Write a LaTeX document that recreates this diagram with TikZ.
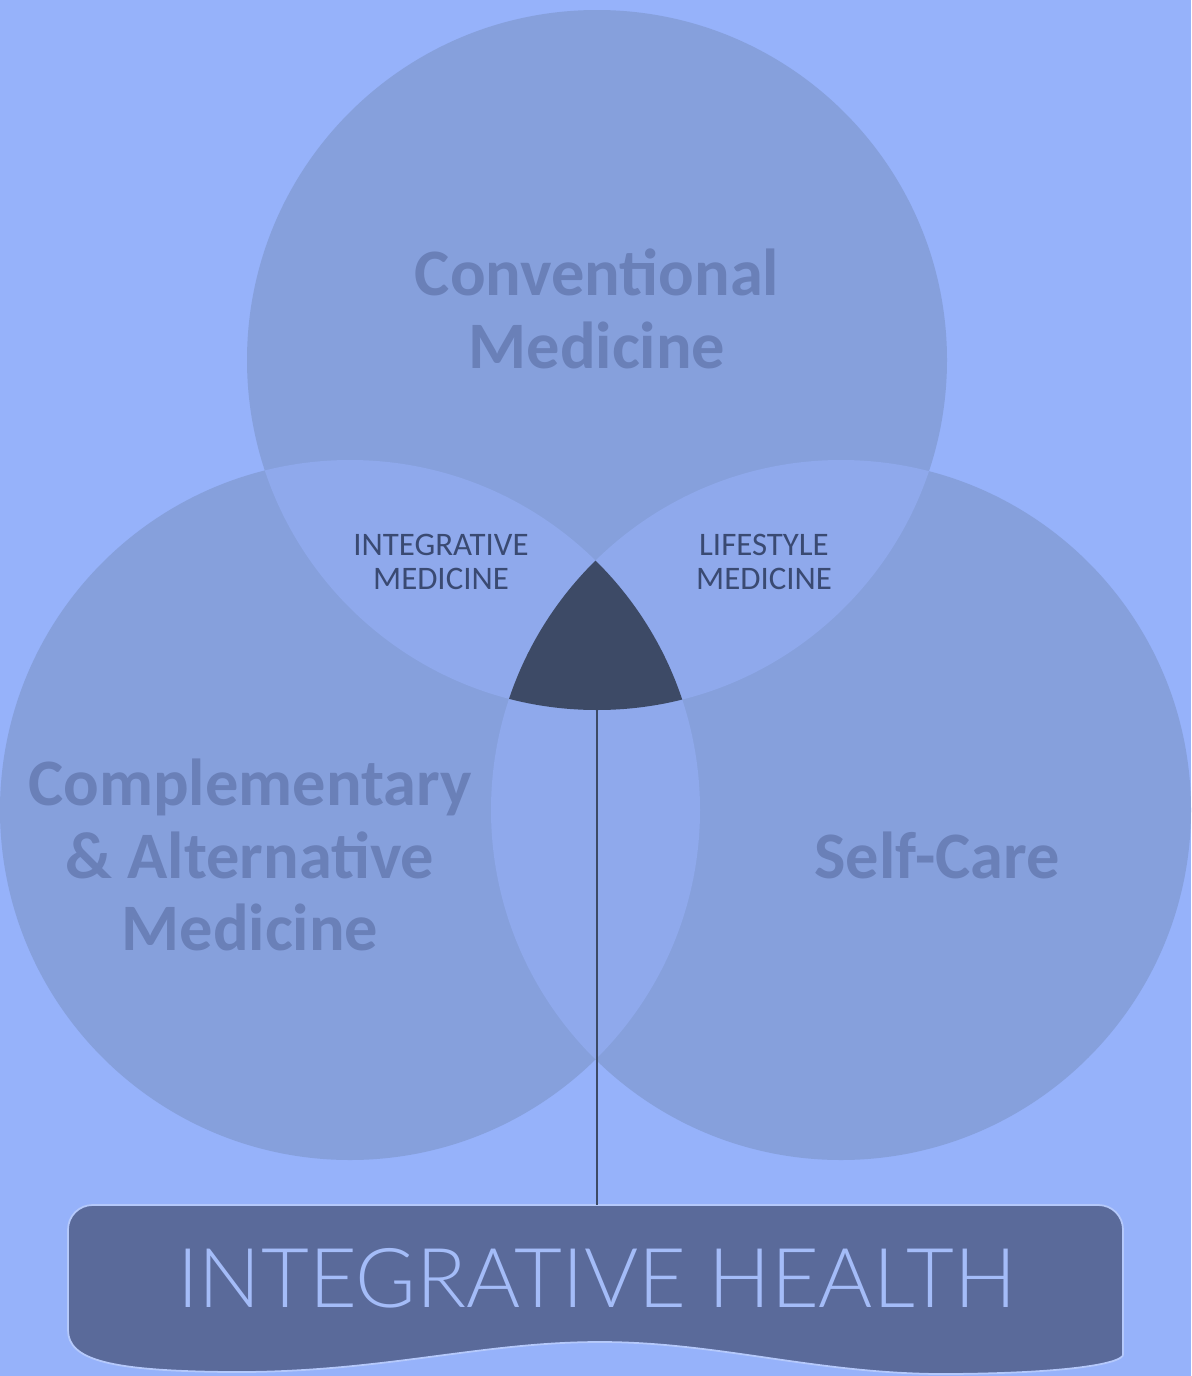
\documentclass[tikz,border=0pt]{standalone}
\usepackage{fontspec}
\setmainfont{Carlito}
\newfontfamily\thinfont{Lato}[UprightFont=* Light]
\definecolor{bgblue}{HTML}{96B2FA}
\definecolor{ringblue}{HTML}{86A0DC}
\definecolor{lensblue}{HTML}{8FA9EC}
\definecolor{coreblue}{HTML}{3D4A66}
\definecolor{bigtext}{HTML}{6A80B8}
\definecolor{smalltext}{HTML}{3A4A72}
\definecolor{bannerblue}{HTML}{5A6A9A}
\definecolor{bannertext}{HTML}{A4BCF8}
\begin{document}
\begin{tikzpicture}[x=0.02cm,y=-0.02cm,
    bigname/.style={text=bigtext,font=\fontsize{37.8}{41.5}\selectfont\bfseries,align=center},
    overlap/.style={text=smalltext,font=\fontsize{18.7}{19.8}\selectfont,align=center}]
	\useasboundingbox (0,0) rectangle (1191,1376);
	\fill[bgblue] (0,0) rectangle (1191,1376);
	\coordinate (conv) at (597,360);
	\coordinate (cam) at (350,810);
	\coordinate (self) at (841,810);
	% the three circles
	\fill[ringblue] (conv) circle[radius=350] (cam) circle[radius=350] (self) circle[radius=350];
	\begin{scope}
		\clip (conv) circle[radius=350];
		\fill[lensblue] (cam) circle[radius=350] (self) circle[radius=350];
	\end{scope}
	\begin{scope}
		\clip (cam) circle[radius=350];
		\fill[lensblue] (self) circle[radius=350];
	\end{scope}
	\begin{scope}
		\clip (conv) circle[radius=350];
		\clip (cam) circle[radius=350];
		\fill[coreblue] (self) circle[radius=350];
	\end{scope}
	% labels
	\node[bigname] (convtext) at (597,309) {Conventional\\Medicine};
	\node[bigname] (camtext) at (250,855) {Complementary\\\& Alternative\\Medicine};
	\node[bigname] (selftext) at (937,855) {Self-Care};
	\node[overlap] (imtext) at (441,562) {INTEGRATIVE\\MEDICINE};
	\node[overlap] (lmtext) at (764,562) {LIFESTYLE\\MEDICINE};
	% banner
	\fill[bannerblue,draw=bgblue!70!white,line width=1pt] (68,1330) [rounded corners=14pt] -- (68,1205) -- (1123,1205) -- (1123,1330) [sharp corners]
		.. controls (1123,1362) and (1080,1373) .. (950,1374)
		.. controls (820,1375) and (720,1342) .. (600,1342)
		.. controls (480,1342) and (380,1373) .. (230,1372)
		.. controls (110,1371) and (68,1360) .. (68,1330) -- cycle;
	\node[text=bannertext,font=\fontsize{47}{49}\thinfont] (health) at (597,1278) {INTEGRATIVE HEALTH};
	\coordinate (core) at (597,655);
	\coordinate (bannertop) at (597,1205);
	\draw[coreblue,line width=1.2pt] (core) -- (bannertop);
\end{tikzpicture}
\end{document}
